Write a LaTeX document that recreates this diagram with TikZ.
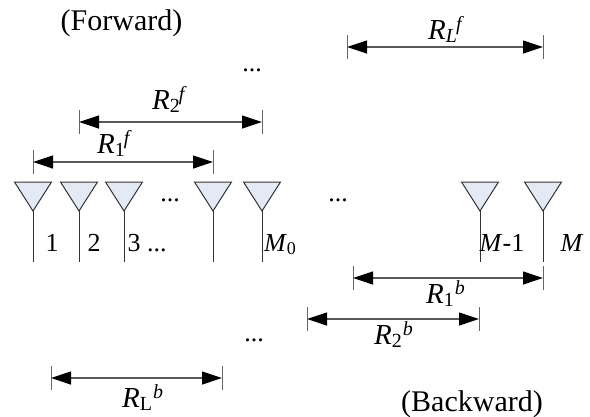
\documentclass[tikz,border=0pt]{standalone}
\usepackage{fontspec}
\setmainfont{Liberation Serif}
\usetikzlibrary{positioning,arrows.meta,shapes.geometric}

\definecolor{antfill}{RGB}{227,234,245}

\newcommand{\RLabel}[3][0pt]{\textit{R}\raisebox{-3pt}{\fontsize{20}{20}\selectfont #2}\kern#1\raisebox{8.5pt}{\fontsize{20}{20}\selectfont\textit{#3}}}

\tikzset{
antenna/.style={
    draw=black!80,
    fill=antfill,
    shape=isosceles triangle,
    shape border rotate=270,
    isosceles triangle stretches,
    minimum width=37pt,
    minimum height=29pt,
    inner sep=0pt,
    outer sep=0pt,
    anchor=apex,
    line width=1pt
},
stem/.style={draw=black!80,line width=1pt},
dimline/.style={<->,draw=black!65,line width=1.2pt},
tickline/.style={draw=black!60,line width=.8pt},
caption/.style={font=\fontsize{30}{32}\selectfont,inner sep=0pt,anchor=base},
lbl/.style={font=\fontsize{26}{28}\selectfont,inner sep=0pt,anchor=base},
rlbl/.style={font=\fontsize{29}{31}\selectfont,inner sep=0pt,anchor=base west},
>={Triangle[length=20pt,width=13pt,black]}
}

\begin{document}
\begin{tikzpicture}[x=1pt,y=-1pt]

\useasboundingbox (0,0) rectangle (590,416);

% antennas
\node[antenna] (ant1) at (33,211) {};
\node[antenna] (ant2) at (79,211) {};
\node[antenna] (ant3) at (124,211) {};
\node[antenna] (antk) at (213,211) {};
\node[antenna] (antm0) at (262,211) {};
\node[antenna] (antm1) at (480,211) {};
\node[antenna] (antm) at (543,211) {};

\coordinate (foot1) at (33,262);
\coordinate (foot2) at (79,262);
\coordinate (foot3) at (124,262);
\coordinate (footk) at (213,262);
\coordinate (footm0) at (262,262);
\coordinate (footm1) at (480,262);
\coordinate (footm) at (543,262);

\foreach \n in {1,2,3,k,m0,m1,m}
    \draw[stem] (ant\n.apex)--(foot\n);

% spans
\coordinate (rfa1) at (33,162);
\coordinate (rfb1) at (213,162);
\coordinate (rfa2) at (79,122);
\coordinate (rfb2) at (262,122);
\coordinate (rfal) at (347,47);
\coordinate (rfbl) at (543,47);
\coordinate (rba1) at (353,278);
\coordinate (rbb1) at (543,278);
\coordinate (rba2) at (307,319);
\coordinate (rbb2) at (479,319);
\coordinate (rbal) at (51,378);
\coordinate (rbbl) at (222,378);

\foreach \s in {rfa1,rfb1,rfa2,rfb2,rfal,rfbl,rba1,rbb1,rba2,rbb2,rbal,rbbl}
    \draw[tickline] ([yshift=12pt]\s)--([yshift=-12pt]\s);

\draw[dimline] (rfa1)--(rfb1);
\draw[dimline] (rfa2)--(rfb2);
\draw[dimline] (rfal)--(rfbl);
\draw[dimline] (rba1)--(rbb1);
\draw[dimline] (rba2)--(rbb2);
\draw[dimline] (rbal)--(rbbl);

% labels
\node[rlbl] (lr1f) at (97,153) {\RLabel[-1pt]{1}{f}};
\node[rlbl] (lr2f) at (152,109) {\RLabel[-1pt]{2}{f}};
\node[rlbl] (lrlf) at (428,39) {\RLabel[-1pt]{\textit{L}}{f}};
\node[rlbl] (lr1b) at (426,303) {\RLabel[1pt]{1}{b}};
\node[rlbl] (lr2b) at (374,344) {\RLabel[1pt]{2}{b}};
\node[rlbl] (lrlb) at (122,407) {\RLabel[1pt]{L}{b}};

\node[lbl] (n1) at (52,251) {1};
\node[lbl] (n2) at (94,251) {2};
\node[lbl] (n3) at (147,251) {3 ...};
\node[lbl] (nm0) at (280,251) {\textit{M}\raisebox{-3pt}{\fontsize{18}{18}\selectfont 0}};
\node[lbl] (nm1) at (502,251) {\textit{M}-1};
\node[lbl] (nm) at (572,251) {\textit{M}};

\node[lbl] (dotsa) at (252,71) {...};
\node[lbl] (dotsb) at (170,201) {...};
\node[lbl] (dotsc) at (338,201) {...};
\node[lbl] (dotsd) at (254,341) {...};

\node[caption] (forward) at (121.5,30) {(Forward)};
\node[caption] (backward) at (472,411) {(Backward)};

\end{tikzpicture}
\end{document}
